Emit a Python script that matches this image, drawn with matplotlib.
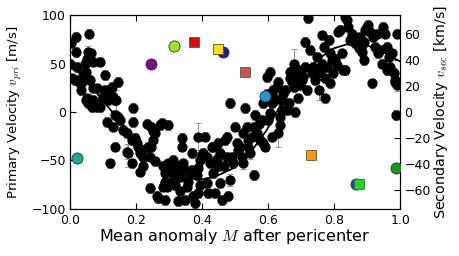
import matplotlib
matplotlib.use("Agg")
import matplotlib.pyplot as plt

plt.rcParams['mathtext.fontset'] = 'cm'
plt.rcParams['font.family'] = ['DejaVu Sans']

# Primary star RV measurements: (mean anomaly, velocity m/s, error m/s)
primary_points = [
    (0.002, 71.5, 5), (0.0, 50, 5), (0.018, 77.7, 5), (0.018, 62, 5), (0.005, 34.7, 5),
    (0.015, 33, 5), (0.02, 46.7, 5), (0.03, 29.5, 5), (0.035, 22.7, 5), (0.04, 38, 5),
    (0.045, 50, 5), (0.053, 55, 5), (0.056, 62, 6), (0.059, 81, 5), (0.059, 58.8, 5),
    (0.063, 60.5, 5), (0.069, 52, 5), (0.048, 12.4, 5), (0.053, 14, 5), (0.056, 9, 5),
    (0.061, 12.4, 5), (0.066, 5.5, 6), (0.071, 12.4, 5), (0.076, 9, 5), (0.081, 5.5, 5),
    (0.086, 9, 5), (0.091, 5.5, 5), (0.038, 31, 5), (0.048, 41.6, 5), (0.061, 33, 5),
    (0.071, 24.4, 5), (0.081, 24.4, 5), (0.091, 52, 5),
    (0.106, 38, 5), (0.106, 22.7, 5), (0.111, 17.5, 5), (0.116, 12.4, 5), (0.101, 15.8, 5),
    (0.121, 22.7, 5), (0.126, 26, 5), (0.131, 15.8, 5), (0.136, 12.4, 5), (0.141, 12, 11),
    (0.146, 31, 5), (0.121, 15.8, 5), (0.111, -10, 5), (0.131, -15, 5), (0.136, -3, 5),
    (0.146, -4.8, 5), (0.152, -8, 5), (0.136, -35.7, 5), (0.121, -53, 5), (0.162, -18.6, 5),
    (0.172, -22, 5), (0.172, -41, 8), (0.177, -42, 15), (0.187, -29, 5), (0.192, 3.8, 5),
    (0.192, -10, 5), (0.187, -53, 5),
    (0.197, -27, 5), (0.202, -32, 5), (0.207, -35.7, 5), (0.212, -42.6, 5), (0.217, -39, 5),
    (0.222, -46, 5), (0.212, -61.5, 5), (0.222, -56, 5), (0.232, -12, 5), (0.237, -35.7, 5),
    (0.242, -46, 5), (0.247, -15, 5), (0.253, -20, 5), (0.258, -22, 5), (0.253, -29, 5),
    (0.247, -35.7, 5), (0.242, -78.7, 5), (0.258, -51, 5), (0.263, -87, 5), (0.268, -89, 5),
    (0.273, -13.4, 5), (0.278, -11.7, 5), (0.283, -56, 5), (0.288, -63, 5), (0.288, -72, 5),
    (0.283, -77, 5), (0.288, -90.7, 5), (0.298, -13.4, 5), (0.293, -77, 5),
    (0.298, -53, 5), (0.303, -58, 5), (0.308, -61.5, 5), (0.313, -49.5, 5), (0.313, -70, 5),
    (0.318, -75, 5), (0.323, -63, 5), (0.328, -56, 5), (0.333, -66.7, 5), (0.328, -92, 5),
    (0.333, -82, 5), (0.338, -27, 5), (0.338, -35.7, 5), (0.343, -53, 5), (0.348, -60, 5),
    (0.348, -90.7, 5), (0.354, -77, 5), (0.359, -72, 5), (0.364, -63, 5), (0.369, -42.6, 5),
    (0.369, -60, 5), (0.374, -87, 5), (0.379, -94, 5), (0.384, -65, 5), (0.389, -58, 5),
    (0.389, -25.4, 14), (0.389, -84, 5), (0.394, -75, 5),
    (0.394, -49.5, 5), (0.399, -44, 5), (0.404, -42.6, 5), (0.409, -25.4, 5), (0.414, -46, 5),
    (0.414, -73.5, 5), (0.419, -84, 5), (0.424, -53, 5), (0.429, -35.7, 5), (0.434, -35.7, 5),
    (0.434, -63, 5), (0.439, -84, 5), (0.444, -48, 5), (0.449, -32, 5), (0.449, -56, 5),
    (0.455, -42.6, 5), (0.455, -73.5, 5), (0.46, -90.7, 5), (0.465, -56, 5), (0.47, -29, 5),
    (0.475, -46, 5), (0.48, -87, 5), (0.485, -70, 6), (0.485, 9, 5), (0.49, -46, 5),
    (0.495, -53, 5), (0.475, -25.4, 5),
    (0.5, -15, 5), (0.505, -32, 5), (0.51, -39, 5), (0.515, -35.7, 5), (0.52, -46, 5),
    (0.525, -53, 6), (0.525, -22, 5), (0.53, 3.8, 5), (0.535, -15, 5), (0.54, -29, 5),
    (0.54, -35.7, 5), (0.545, -42.6, 6), (0.55, -25.4, 5), (0.556, -65, 5), (0.556, -15, 5),
    (0.561, -3, 5), (0.566, -22, 5), (0.571, -12, 5), (0.576, -29, 5), (0.581, -8, 5),
    (0.586, -32, 5), (0.591, -35.7, 5), (0.586, 9, 5), (0.591, 12.4, 5), (0.596, 19, 5),
    (0.596, 36.4, 5), (0.606, 41.6, 5), (0.601, -8, 5), (0.606, -1.4, 5), (0.611, 9, 5),
    (0.611, -25.4, 5), (0.616, 22.7, 5), (0.616, 15.8, 5), (0.621, 12.4, 5), (0.626, 26, 5),
    (0.631, 31, 5), (0.63, -22, 14), (0.636, -4.8, 5), (0.636, -13.4, 5), (0.641, 2, 5),
    (0.641, 12.4, 5), (0.646, 19, 5), (0.652, 22.7, 5), (0.657, 2, 5), (0.662, 9, 5),
    (0.667, 41.6, 5), (0.667, 34.7, 5), (0.672, 31, 5), (0.677, 50, 15), (0.677, 26, 5),
    (0.682, 33, 5), (0.682, 0.3, 5), (0.687, 38, 5), (0.692, 43, 5), (0.692, 14, 5),
    (0.697, 28, 5),
    (0.702, 33, 5), (0.707, 36.4, 6), (0.712, 72.5, 5), (0.712, 46.7, 5), (0.717, 22.7, 5),
    (0.722, 96.6, 5), (0.727, 64, 5), (0.732, 40, 5), (0.737, 46.7, 5), (0.742, 33, 5),
    (0.747, 57, 5), (0.753, 23, 11), (0.758, 41.6, 5), (0.763, 79, 5), (0.763, 50, 5),
    (0.768, 67, 5), (0.773, 14, 5), (0.773, 34.7, 5), (0.778, 46.7, 5), (0.783, 74, 5),
    (0.788, 60.5, 5), (0.788, 29.5, 5), (0.793, 53.6, 5), (0.798, 40, 5),
    (0.803, 55, 5), (0.808, 48.5, 5), (0.813, 83, 5), (0.818, 84.5, 5), (0.823, 60.5, 5),
    (0.828, 43, 5), (0.833, 98, 5), (0.838, 95, 5), (0.833, 43, 5), (0.843, 88, 5),
    (0.848, 74, 5), (0.854, 81, 5), (0.859, 77.7, 5), (0.864, 71, 5), (0.869, 74, 5),
    (0.874, 65.6, 5), (0.879, 77.7, 5), (0.884, 62, 5), (0.884, 69, 5), (0.889, 72.5, 5),
    (0.889, 53.6, 5), (0.894, 84.5, 5), (0.899, 88, 5),
    (0.904, 89.7, 5), (0.909, 83, 5), (0.914, 29.5, 5), (0.919, 77.7, 5), (0.924, 67, 5),
    (0.929, 81, 5), (0.934, 60.5, 5), (0.939, 64, 5), (0.944, 50, 5), (0.949, 88, 5),
    (0.955, 81, 5), (0.96, 67, 5), (0.96, 43, 5), (0.965, 57, 5), (0.97, 46.7, 5),
    (0.975, 60.5, 5), (0.98, 40, 5), (0.985, 33, 6), (0.985, 31, 5), (0.99, 81, 5),
    (0.99, 28, 6), (0.988, -3, 5),
]

# Orbit fit curve
curve_x = [0.0, 0.04, 0.09, 0.14, 0.19, 0.24, 0.29, 0.34, 0.39, 0.44, 0.495,
           0.545, 0.596, 0.646, 0.697, 0.747, 0.798, 0.848, 0.899, 0.949, 1.0]
curve_v = [46, 38, 15.8, -4.8, -25, -42.6, -58, -66.7, -70, -66.7, -58,
           -42.6, -18.6, 12.4, 36, 53.6, 65.6, 70.8, 69, 62, 52]

# Secondary velocity measurements (km/s)
circ_x = [0.02, 0.245, 0.316, 0.462, 0.59, 0.865, 0.988]
circ_v = [-35.4, 37.4, 50.8, 46.5, 12.6, -55.7, -43.1]
circ_c = ['#1aa898', '#7a0a88', '#90ee1a', '#2a10b0', '#1a98e0', '#1a40d0', '#10991a']
sq_x = [0.376, 0.449, 0.53, 0.731, 0.874]
sq_v = [54.2, 48.5, 30.7, -33.3, -55.7]
sq_c = ['#ee0000', '#ffe000', '#d05050', '#ff9a00', '#10e010']

px = [p[0] for p in primary_points]
pv = [p[1] for p in primary_points]
pe = [p[2] for p in primary_points]

TICK_FS = 9

fig = plt.figure(figsize=(4.6, 2.56), dpi=100)
ax = fig.add_axes([0.152, 0.184, 0.718, 0.757])
ax.errorbar(px, pv, yerr=pe, fmt='o', color='black', ms=6.4, mec='black',
            ecolor='0.6', elinewidth=0.8, capsize=2, capthick=0.8, zorder=2)
ax.plot(curve_x, curve_v, color='black', lw=1.3, zorder=3)
ax.set_xlim(0, 1)
ax.set_ylim(-100, 100)
ax.set_xticks([0.0, 0.2, 0.4, 0.6, 0.8, 1.0])
ax.set_xticklabels(['0.0', '0.2', '0.4', '0.6', '0.8', '1.0'])
ax.set_yticks([-100, -50, 0, 50, 100])
ax.set_yticklabels(['\u2212100', '\u221250', '0', '50', '100'])
ax.set_xlabel('Mean anomaly $M$ after pericenter', fontsize=11.5, labelpad=0)
ax.set_ylabel('Primary Velocity $v_{pri}$ [m/s]', fontsize=9.6, labelpad=5)
ax.tick_params(direction='in', top=True, labelsize=TICK_FS, length=4)
ax.tick_params(axis='x', pad=4)
ax.tick_params(axis='y', pad=3)

ax2 = ax.twinx()
for x, v, c in zip(circ_x, circ_v, circ_c):
    ax2.plot([x], [v], 'o', color=c, mec='#333333', mew=0.6, ms=8, zorder=4)
for x, v, c in zip(sq_x, sq_v, sq_c):
    ax2.plot([x], [v], 's', color=c, mec='#555555', mew=0.6, ms=7.5, zorder=5)
ax2.set_ylim(-75, 75)
ax2.set_yticks([-60, -40, -20, 0, 20, 40, 60])
ax2.set_yticklabels(['\u221260', '\u221240', '\u221220', '0', '20', '40', '60'])
ax2.set_ylabel('Secondary Velocity $v_{sec}$ [km/s]', fontsize=10.3, labelpad=1)
ax2.tick_params(direction='in', labelsize=TICK_FS, length=4, pad=3)
ax2.set_xlim(0, 1)

fig.savefig('out.png', dpi=100, facecolor='white')
